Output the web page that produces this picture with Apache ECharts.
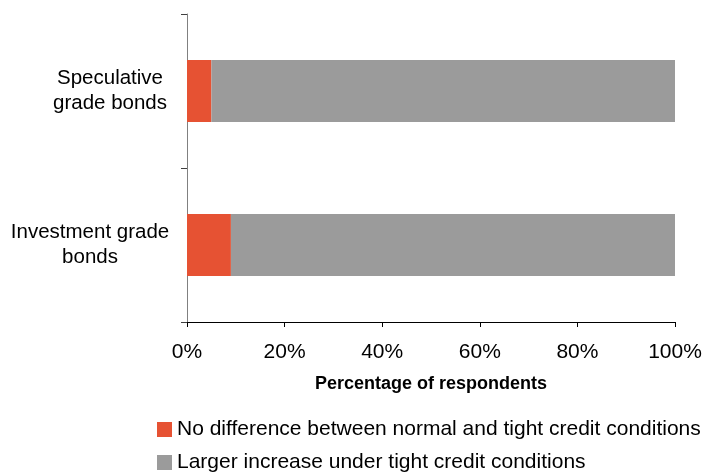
<!DOCTYPE html>
<html>
<head>
<meta charset="utf-8">
<script src="https://cdn.jsdelivr.net/npm/echarts@6/dist/echarts.min.js"></script>
<style>
  html, body { margin: 0; padding: 0; background: #fff; }
  #chart { width: 706px; height: 473px; }
</style>
</head>
<body>
<div id="chart"></div>
<script>
// Bond categories, bottom to top
const categories = ['Investment grade bonds', 'Speculative grade bonds'];
const seriesNames = [
  'No difference between normal and tight credit conditions',
  'Larger increase under tight credit conditions'
];
// Share of respondents (%)
const noDifference = [9, 5];
const largerIncrease = [91, 95];
const xTicks = [0, 20, 40, 60, 80, 100];

const FONT = 'Liberation Sans, Arial, sans-serif';

const chart = echarts.init(document.getElementById('chart'));
chart.setOption({
  animation: false,
  textStyle: { fontFamily: FONT },
  grid: { left: 187, right: 31, top: 14, bottom: 151, containLabel: false },
  legend: {
    orient: 'vertical',
    left: 157,
    bottom: 0,
    icon: 'rect',
    itemWidth: 15,
    itemHeight: 15,
    itemGap: 12,
    padding: 0,
    textStyle: { fontFamily: FONT, fontSize: 21, color: '#000' },
    data: seriesNames
  },
  xAxis: {
    type: 'value',
    min: xTicks[0],
    max: xTicks[xTicks.length - 1],
    interval: xTicks[1] - xTicks[0],
    name: 'Percentage of respondents',
    nameLocation: 'middle',
    nameGap: 53,
    nameTextStyle: { fontFamily: FONT, fontSize: 18, fontWeight: 'bold', color: '#000' },
    axisLine: { show: true, lineStyle: { color: '#000', width: 1 } },
    axisTick: { show: true, length: 5, lineStyle: { color: '#000' } },
    axisLabel: { formatter: '{value}%', fontSize: 21, color: '#000', margin: 20, fontFamily: FONT },
    splitLine: { show: false }
  },
  yAxis: {
    type: 'category',
    data: categories,
    axisLine: { show: true, lineStyle: { color: '#808080', width: 1 } },
    axisTick: { show: true, length: 6, lineStyle: { color: '#404040' } },
    axisLabel: {
      margin: 18,
      fontSize: 20.5,
      color: '#000',
      fontFamily: FONT,
      lineHeight: 25,
      formatter: function (v) {
        if (v === 'Speculative grade bonds') return '{s|Speculative}\n{s|grade bonds}';
        return '{i|Investment grade}\n{i|bonds}';
      },
      rich: {
        s: { width: 118, align: 'center', fontSize: 20.5, lineHeight: 25, fontFamily: FONT, color: '#000' },
        i: { width: 158, align: 'center', fontSize: 20.5, lineHeight: 25, fontFamily: FONT, color: '#000' }
      }
    }
  },
  series: [
    {
      name: seriesNames[0],
      type: 'bar',
      stack: 'total',
      barWidth: 62,
      itemStyle: { color: '#E65233' },
      data: noDifference
    },
    {
      name: seriesNames[1],
      type: 'bar',
      stack: 'total',
      barWidth: 62,
      itemStyle: { color: '#9B9B9B' },
      data: largerIncrease
    }
  ]
});
</script>
</body>
</html>
